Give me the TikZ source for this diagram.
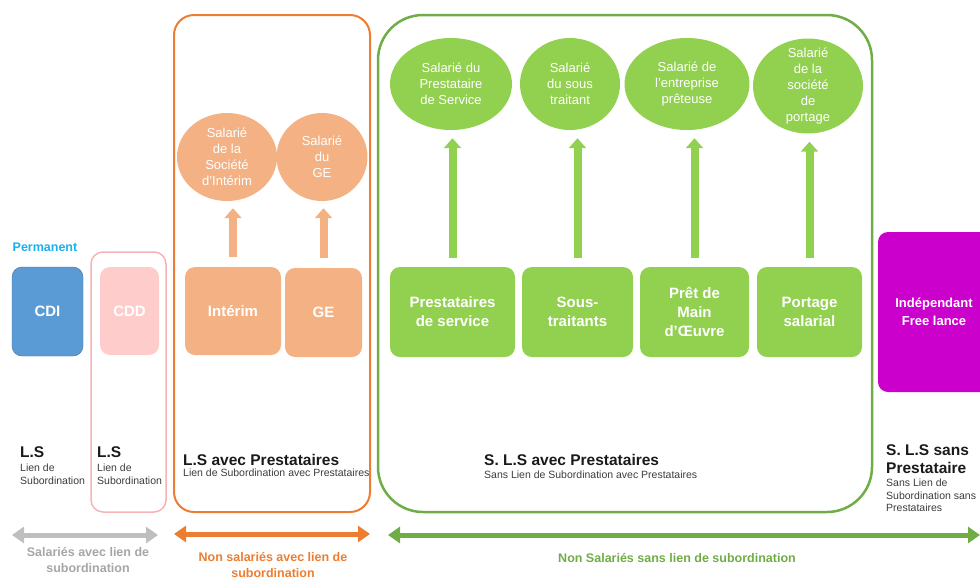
\documentclass[tikz,border=0pt]{standalone}
\usepackage{fontspec}
\setmainfont{Liberation Sans}
\usepackage{tikz}
\usetikzlibrary{arrows.meta,shapes.geometric}

\definecolor{bleuCDI}{HTML}{5B9BD5}
\definecolor{bleuBord}{HTML}{41719C}
\definecolor{cyanTxt}{HTML}{1AB0F0}
\definecolor{roseClair}{HTML}{FFCCCC}
\definecolor{roseBord}{HTML}{F7B3B3}
\definecolor{orangeF}{HTML}{ED7D31}
\definecolor{orangeC}{HTML}{F4B183}
\definecolor{vertF}{HTML}{70AD47}
\definecolor{vertC}{HTML}{92D050}
\definecolor{violet}{HTML}{CC00CC}
\definecolor{grisF}{HTML}{BFBFBF}
\definecolor{grisTxt}{HTML}{A6A6A6}
\definecolor{texte}{HTML}{1A1A1A}

\begin{document}
\begin{tikzpicture}[x=1pt, y=-1pt,
  boite/.style={rectangle, rounded corners=10pt, text=white, align=center,
    font=\fontsize{15}{19}\selectfont\bfseries},
  bulle/.style={ellipse, fill=#1, inner sep=-5pt, text=white, align=center,
    font=\fontsize{13}{16}\selectfont},
  montee/.style={draw=#1, line width=8pt, -{Triangle[length=10pt,width=17pt]}},
  fleche/.style={draw=#1, line width=5pt,
    {Triangle[length=12pt,width=16pt]}-{Triangle[length=12pt,width=16pt]}},
  titre/.style={anchor=west, inner sep=0pt, text=texte,
    font=\fontsize{15.5}{18}\selectfont\bfseries, align=left},
  soustitre/.style={anchor=north west, inner sep=0pt, text=texte!85,
    font=\fontsize{10.5}{12.5}\selectfont, align=left},
  legende/.style={align=center, inner sep=0pt,
    font=\fontsize{12.5}{16.5}\selectfont\bfseries}]

\useasboundingbox (0,0) rectangle (980,579);

% cadres
\draw [roseBord, line width=1.5pt, rounded corners=12pt] (91,252) rectangle (166,512);
\draw [orangeF, line width=2pt, rounded corners=20pt] (174,15) rectangle (370,512);
\draw [vertF, line width=2.5pt, rounded corners=45pt] (378,15) rectangle (872,512);

% salaries
\node [inner sep=0pt, text=cyanTxt, font=\fontsize{12.5}{15}\selectfont\bfseries] (perm) at (45,247) {Permanent};
\node [boite, fill=bleuCDI, draw=bleuBord, minimum width=71pt, minimum height=89pt] (cdi) at (47.5,311.5) {CDI};
\node [boite, fill=roseClair, minimum width=59pt, minimum height=88pt] (cdd) at (129.5,311) {CDD};

% interim et GE
\node [boite, fill=orangeC, minimum width=96pt, minimum height=88pt] (interim) at (233,311) {Intérim};
\node [boite, fill=orangeC, minimum width=77pt, minimum height=89pt] (ge) at (323.5,312.5) {GE};
\node [bulle=orangeC, minimum width=100pt, minimum height=88pt] (salint) at (227,157) {Salarié\\de la\\Société\\d'Intérim};
\node [bulle=orangeC, minimum width=91pt, minimum height=88pt] (salge) at (322,157) {Salarié\\du\\GE};
\draw [montee=orangeC, shorten <=10pt, shorten >=7pt] (interim.north) -- (interim.north |- salint.south);
\draw [montee=orangeC, shorten <=10pt, shorten >=7pt] (ge.north) -- (ge.north |- salge.south);

% prestataires
\node [bulle=vertC, minimum width=122pt, minimum height=92pt] (salprest) at (451,84) {Salarié du\\Prestataire\\de Service};
\node [bulle=vertC, minimum width=100pt, minimum height=92pt] (salsous) at (570,84) {Salarié\\du sous\\traitant};
\node [bulle=vertC, minimum width=125pt, minimum height=92pt] (salpret) at (687,84) {Salarié de\\l'entreprise\\prêteuse};
\node [bulle=vertC, minimum width=110pt, minimum height=95pt] (salport) at (808,86) {Salarié\\de la\\société\\de\\portage};
\node [boite, fill=vertC, minimum width=125pt, minimum height=90pt] (prest) at (452.5,312) {Prestataires\\de service};
\node [boite, fill=vertC, minimum width=111pt, minimum height=90pt] (sous) at (577.5,312) {Sous-\\traitants};
\node [boite, fill=vertC, minimum width=109pt, minimum height=90pt] (pret) at (694.5,312) {Prêt de\\Main\\d'Œuvre};
\node [boite, fill=vertC, minimum width=105pt, minimum height=90pt] (portage) at (809.5,312) {Portage\\salarial};
\draw [montee=vertC, shorten <=9pt, shorten >=8pt] (prest.north) -- (prest.north |- salprest.south);
\draw [montee=vertC, shorten <=9pt, shorten >=8pt] (sous.north) -- (sous.north |- salsous.south);
\draw [montee=vertC, shorten <=9pt, shorten >=8pt] (pret.north) -- (pret.north |- salpret.south);
\draw [montee=vertC, shorten <=9pt, shorten >=8pt] (portage.north) -- (portage.north |- salport.south);

% independant
\node [boite, fill=violet, minimum width=112pt, minimum height=160pt, font=\fontsize{13}{18}\selectfont\bfseries] (indep) at (934,312) {Indépendant\\Free lance};

% titres
\node [titre] (ls1) at (20,452) {L.S};
\node [soustitre] (lien1) at (20,464) {Lien de\\Subordination};
\node [titre] (ls2) at (97,452) {L.S};
\node [soustitre] (lien2) at (97,464) {Lien de\\Subordination};
\node [titre] (lsp) at (183,460) {L.S avec Prestataires};
\node [soustitre] (lienp) at (183,469) {Lien de Subordination avec Prestataires};
\node [titre] (slsp) at (484,460) {S. L.S avec Prestataires};
\node [soustitre] (sanslienp) at (484,471) {Sans Lien de Subordination avec Prestataires};
\node [titre] (sls) at (886,459) {S. L.S sans\\Prestataire};
\node [soustitre] (sanslien) at (886,479) {Sans Lien de\\Subordination sans\\Prestataires};

% fleches du bas
\coordinate (g1) at (12,535);
\coordinate (g2) at (158,535);
\draw [fleche=grisF] (g1) -- (g2);
\node [legende, text=grisTxt] (lgris) at (88,560) {Salariés avec lien de\\subordination};
\coordinate (o1) at (174,534);
\coordinate (o2) at (370,534);
\draw [fleche=orangeF] (o1) -- (o2);
\node [legende, text=orangeF] (lorange) at (273,565) {Non salariés avec lien de\\subordination};
\coordinate (v1) at (388,535);
\coordinate (v2) at (980,535);
\draw [fleche=vertF] (v1) -- (v2);
\node [legende, text=vertF] (lvert) at (677,558) {Non Salariés sans lien de subordination};
\end{tikzpicture}
\end{document}
